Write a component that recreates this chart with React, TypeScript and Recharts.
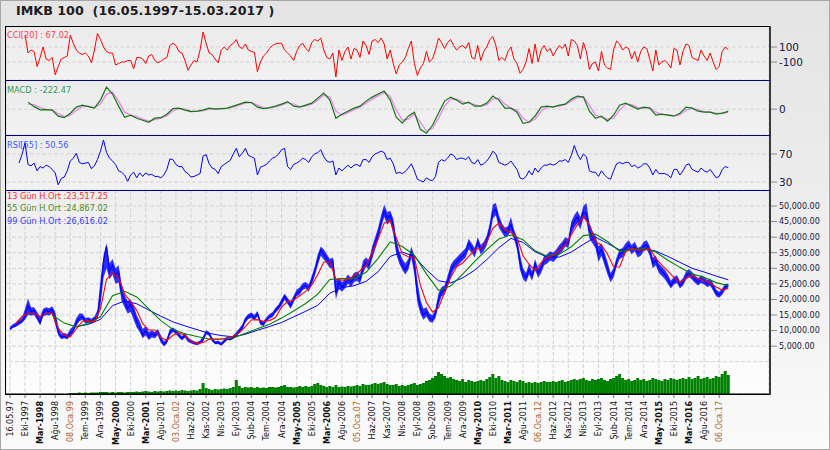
import React from 'react';
import { ComposedChart, Line, Bar, Area, XAxis, YAxis, CartesianGrid, ReferenceLine } from 'recharts';

const FONT = '"DejaVu Sans", Verdana, sans-serif';

// x axis: months since 16.05.1997 (t = 0 .. 238)
const tickLabels = [
  '16.05.97', 'Eki-1997', 'Mar-1998', 'Ağu-1998', '08.Oca.99', 'Tem-1999', 'Ara-1999', 'May-2000',
  'Eki-2000', 'Mar-2001', 'Ağu-2001', '03.Oca.02', 'Haz-2002', 'Kas-2002', 'Nis-2003', 'Eyl-2003',
  'Şub-2004', 'Tem-2004', 'Ara-2004', 'May-2005', 'Eki-2005', 'Mar-2006', 'Ağu-2006', '05.Oca.07',
  'Haz-2007', 'Kas-2007', 'Nis-2008', 'Eyl-2008', 'Şub-2009', 'Tem-2009', 'Ara-2009', 'May-2010',
  'Eki-2010', 'Mar-2011', 'Ağu-2011', '06.Oca.12', 'Haz-2012', 'Kas-2012', 'Nis-2013', 'Eyl-2013',
  'Şub-2014', 'Tem-2014', 'Ara-2014', 'May-2015', 'Eki-2015', 'Mar-2016', 'Ağu-2016', '06.Oca.17',
];
const boldLabels = ['Mar-1998', 'May-2000', 'Mar-2001', 'May-2005', 'Mar-2006', 'May-2010', 'Mar-2011', 'May-2015', 'Mar-2016'];

// IMKB 100 close, monthly (t = 0..238)
const price = [
  10500, 11200, 11800, 12500, 13000, 14500, 18000, 16000, 16500, 14500,
  12500, 15500, 16500, 16000, 17000, 14000, 9500, 8000, 8200, 7800,
  9000, 10000, 12500, 14000, 14500, 13000, 13500, 13000, 13800, 14500,
  22000, 32000, 37000, 29000, 31000, 27500, 29000, 22000, 19500, 17000,
  18500, 16000, 13000, 11000, 8500, 10000, 8000, 9000, 8500, 9500,
  7000, 5500, 6500, 9500, 10500, 9500, 8500, 7500, 8500, 7000,
  6500, 6000, 5800, 6200, 7000, 9500, 9000, 7000, 6000, 6200,
  5500, 6500, 7500, 7200, 7800, 8500, 10000, 11000, 13500, 14500,
  15000, 14000, 15500, 12500, 12000, 13500, 14500, 15000, 16500, 17500,
  19000, 21000, 19500, 18000, 20000, 22000, 22500, 24000, 24500, 23500,
  26000, 29000, 32500, 36000, 34500, 33000, 31500, 32500, 22000, 25500,
  24000, 25000, 26500, 25500, 27000, 27500, 26500, 30500, 32000, 31000,
  35000, 38000, 41000, 45000, 48500, 46000, 47000, 44000, 37000, 33500,
  31000, 29500, 31000, 35500, 31000, 22000, 17500, 15000, 16000, 14000,
  13500, 15500, 20000, 22500, 23000, 25500, 29000, 31000, 32000, 33000,
  34000, 35000, 38000, 36500, 35000, 38500, 36000, 37000, 39000, 42500,
  48000, 49000, 45000, 43000, 41500, 42000, 44000, 41000, 38000, 32000,
  28000, 27000, 29500, 27500, 31500, 28500, 30000, 32500, 33000, 34000,
  33500, 34500, 36000, 37000, 38500, 38000, 43000, 45000, 46500, 44500,
  48000, 47500, 42000, 40000, 38500, 34500, 36000, 33000, 30000, 27000,
  28500, 32000, 34500, 35000, 36500, 37500, 36000, 37000, 35000, 35500,
  37000, 37500, 35500, 31500, 32500, 30000, 29000, 28000, 26500, 24500,
  26000, 26500, 24500, 25500, 27500, 28500, 27500, 26500, 25500, 26500,
  26000, 25000, 25500, 24000, 22000, 21500, 22500, 24000, 24500,
];

// monthly low / high of the index (t = 0..238)
const priceLow = [
  10000, 10800, 11200, 11800, 12400, 13500, 15000, 14800, 15000, 13500,
  11800, 14500, 15000, 14800, 15500, 12000, 8500, 7200, 7500, 7200,
  8200, 9500, 11500, 13000, 13500, 12300, 12500, 12300, 13000, 13800,
  18000, 27000, 30000, 26500, 28000, 25000, 25500, 19500, 17500, 15500,
  16000, 13500, 11000, 9500, 7500, 8500, 7000, 7800, 7500, 8500,
  6200, 5000, 5800, 8500, 9500, 8800, 7800, 6800, 7800, 6300,
  5900, 5500, 5300, 5700, 6500, 8800, 8300, 6500, 5600, 5700,
  5100, 6000, 7000, 6800, 7300, 8000, 9300, 10300, 12500, 13700,
  14000, 13200, 14500, 11800, 11500, 12800, 13800, 14300, 15700, 16700,
  18000, 19800, 18500, 17000, 19000, 21000, 21500, 23000, 23500, 22500,
  24800, 27500, 31000, 34000, 32800, 31500, 30000, 30000, 20000, 23500,
  22500, 23500, 25000, 24000, 25500, 26000, 25000, 28500, 30500, 29500,
  33000, 36000, 39000, 43000, 46500, 44000, 45000, 41000, 34500, 31500,
  29500, 28000, 29500, 33500, 28000, 19000, 15500, 13500, 14500, 12800,
  12500, 14000, 18000, 21000, 21500, 24000, 27000, 29500, 30500, 31500,
  32500, 33500, 36000, 35000, 33500, 37000, 34500, 35500, 37500, 40500,
  46000, 47000, 43000, 41500, 40000, 40500, 42000, 39500, 36000, 29500,
  26500, 25500, 28000, 26000, 29500, 27000, 28500, 31000, 31500, 32500,
  32000, 33000, 34500, 35500, 37000, 36500, 41000, 43000, 44500, 42500,
  46000, 45500, 39500, 38000, 36500, 32000, 34000, 31000, 28000, 25500,
  27000, 30500, 33000, 33500, 35000, 36000, 34500, 35500, 33500, 34000,
  35500, 36000, 34000, 30000, 31000, 28500, 27500, 26500, 25000, 23500,
  24800, 25300, 23500, 24500, 26300, 27300, 26300, 25300, 24500, 25300,
  24800, 24000, 24400, 22800, 21000, 20500, 21500, 23000, 23800,
];
const priceHigh = [
  11200, 12000, 12600, 13300, 14000, 17000, 20300, 17500, 17500, 16000,
  14500, 17000, 17500, 17200, 17800, 16000, 11500, 9000, 9200, 8800,
  10500, 11500, 14000, 15500, 15500, 14000, 14300, 13800, 14500, 16500,
  26000, 34000, 38000, 31500, 33000, 30000, 31000, 25000, 21500, 19500,
  20000, 18000, 15000, 13000, 10500, 11500, 9500, 10000, 9500, 10500,
  8500, 6500, 7500, 10500, 11000, 10300, 9300, 8200, 9300, 7800,
  7100, 6600, 6300, 6800, 8200, 10000, 9600, 7800, 6600, 6800,
  6200, 7200, 8000, 7800, 8500, 9500, 10700, 12000, 14300, 15300,
  15800, 15000, 16300, 13500, 13000, 14300, 15300, 15900, 17300, 18400,
  20200, 21800, 20500, 19200, 21200, 23200, 23800, 25200, 25600, 24800,
  27500, 30500, 34500, 37000, 36000, 34500, 33000, 33500, 26000, 27000,
  25500, 26500, 28000, 27000, 28500, 29000, 28000, 32500, 33500, 32500,
  37000, 40000, 43000, 47000, 50500, 48000, 48500, 46000, 39500, 35500,
  33000, 31500, 33000, 37000, 34000, 26000, 20000, 17000, 17500, 15500,
  15000, 17000, 22000, 24000, 24500, 27500, 31000, 32500, 33500, 34500,
  35500, 36500, 39500, 38000, 36500, 40000, 37500, 38500, 40500, 44500,
  50500, 51000, 47000, 44500, 43000, 43500, 46500, 42500, 40000, 34500,
  30000, 28500, 31500, 29000, 33000, 30000, 31500, 34000, 34500, 35500,
  35000, 36000, 37500, 38500, 40000, 39500, 45000, 47000, 48500, 46500,
  50000, 51000, 44500, 42000, 40500, 37000, 38000, 35000, 32000, 28500,
  30000, 33500, 36000, 36500, 38000, 39000, 37500, 38500, 36500, 37000,
  38500, 39000, 37000, 33500, 34000, 31500, 30500, 29500, 28000, 26000,
  27300, 27800, 25800, 26800, 29000, 29800, 28800, 27800, 26700, 27800,
  27200, 26200, 26700, 25200, 23200, 22500, 23500, 25000, 25000,
];

// 13 day average, every 2 months from t = 2
const ma13 = [
  12400, 14500, 15500, 15500, 14500, 15500, 15500, 10700, 8500, 8000,
  10500, 13000, 13200, 12800, 17000, 26500, 28500, 27000, 21800, 19300,
  16500, 12200, 10200, 10200, 7800, 6800, 8500, 9300, 8500, 6600,
  5900, 6200, 7200, 7200, 7200, 7700, 8200, 9300, 11300, 13400,
  13500, 12900, 13200, 14200, 17500, 19300, 19800, 21200, 22600, 24600,
  28000, 32000, 32000, 26500, 26200, 26400, 27500, 29200, 31000, 35000,
  39500, 44500, 45200, 39800, 34600, 33700, 33500, 24500, 19000, 16000,
  17300, 22300, 27000, 30500, 31700, 33800, 36000, 36400, 38500, 42800,
  44500, 42300, 41500, 40000, 34000, 31300, 29200, 31800, 33500, 34100,
  35700, 37800, 40700, 44000, 46600, 44000, 38500, 37500, 34500, 30500,
  30400, 35300, 36400, 35900, 35800, 36300, 33200, 31000, 29100, 27000,
  25400, 26800, 27700, 26700, 26000, 25300, 24000, 23000, 23500,
];

// 55 day average, every 4 months from t = 14
const ma55 = [
  15000, 12400, 11200, 12300, 14500, 21200, 22600, 20800, 17000, 13200,
  10400, 9000, 8100, 7300, 7300, 7600, 9100, 10600, 12000, 14000,
  16300, 18700, 21700, 26400, 26700, 26700, 28700, 33200, 38500, 37000,
  34200, 28200, 22900, 24300, 28100, 32200, 36000, 39400, 40700, 39200,
  35600, 33900, 34500, 36900, 40500, 41000, 38600, 35500, 36000, 36400,
  35200, 32600, 30300, 28200, 27100, 25400, 24400,
];

// 99 day average, every 4 months from t = 22
const ma99 = [
  11300, 12000, 13600, 18000, 19500, 18600, 16600, 14600, 12800, 11500,
  10300, 9100, 8400, 8000, 8800, 10100, 11300, 12600, 14400, 16200,
  18100, 22000, 23800, 24400, 25800, 28900, 33800, 35200, 33800, 29500,
  26000, 25300, 26900, 29400, 32800, 36600, 39600, 38300, 35300, 33600,
  33600, 35200, 37700, 40000, 38000, 35900, 36000, 36400, 35500, 33800,
  31900, 30000, 28800, 27500, 26300,
];

// traded volume (billion TL), monthly t = 0..238
const volume = [
  0, 0, 0, 0, 0, 0, 0, 0, 0, 0,
  0, 0, 0, 0, 0, 0, 0, 0, 0, 0,
  1, 1, 1, 1.5, 1, 1.5, 1, 1.5, 1.5, 1.5,
  2, 2, 2, 1.5, 2, 1.5, 2, 2, 1.5, 2,
  2, 2, 2.5, 2, 2.5, 3, 2.5, 2, 3, 2.5,
  3, 2.5, 3, 3.5, 3, 3.5, 3, 4, 3.5, 3,
  3.5, 4, 3.5, 5, 11, 6, 5, 4, 5, 4.5,
  5, 5.5, 5, 6, 7, 14, 8, 6, 7, 6.5,
  7, 6, 7, 6, 6.5, 6, 7, 7, 6.5, 7,
  8, 9, 7, 7, 6.5, 7, 8, 7, 8, 7,
  8, 10, 11, 9, 8, 7, 8, 7, 9, 7,
  7.5, 7, 8, 7.5, 8, 9, 8, 10, 9, 9,
  10, 11, 10, 11, 12, 10, 9, 9, 10, 8,
  9, 8, 9, 10, 11, 9, 10, 11, 13, 14,
  16, 18, 22, 20, 18, 16, 17, 15, 14, 13,
  15, 12, 14, 13, 12, 13, 14, 13, 15, 17,
  20, 16, 18, 14, 13, 12, 14, 13, 12, 14,
  13, 11, 12, 11, 12, 11, 12, 13, 12, 12,
  13, 12, 13, 14, 12, 13, 14, 15, 14, 15,
  16, 14, 13, 15, 14, 15, 16, 14, 13, 15,
  16, 18, 20, 16, 14, 15, 13, 14, 16, 14,
  15, 13, 14, 16, 15, 14, 13, 15, 14, 16,
  15, 14, 15, 16, 15, 17, 15, 16, 18, 15,
  16, 17, 15, 16, 18, 17, 20, 23, 19,
];

// CCI[20], monthly from t = 5
const cci = [
  260, 20, 60, 40, -160, -40, 100, -60, -80, -40,
  -270, -160, -60, -40, -20, 260, 150, 60, 20, 0,
  20, -20, -110, 60, 280, 200, 100, 40, 20, 20,
  -140, -120, -100, -100, -80, -80, -190, -40, -40, -60,
  -120, -20, 0, -80, -110, -90, -60, -40, 120, 150,
  120, 40, 20, -80, -210, -140, -80, -100, 60, 300,
  150, 20, 0, -60, -110, 60, 100, 60, 120, 150,
  200, 100, 80, 140, 60, 40, 30, -230, -100, -20,
  20, 80, 120, 140, 150, 150, 60, 20, -20, -80,
  40, 120, 150, 80, 40, 160, 200, 180, 220, 60,
  -40, -60, 20, -300, 60, -80, 40, 100, -60, 80,
  60, -40, 180, 120, 0, 180, 200, 160, 220, 140,
  -60, 60, -120, -260, -140, -100, -40, 80, 180, -120,
  -280, -180, -120, 40, -100, -60, 60, 220, 160, 80,
  160, 200, 120, 60, 100, 120, 80, 160, -40, -60,
  120, -80, 40, 100, 200, 240, 120, -80, -40, -80,
  40, 100, -60, -120, -250, -200, -100, 80, -120, 140,
  -100, 60, 120, 40, 80, -20, 60, 120, 80, 140,
  -20, 200, 180, 120, -60, 160, 40, -200, -120, -100,
  -220, 40, -140, -180, -200, 60, 180, 140, 60, 100,
  80, -60, 40, -100, 40, 100, 80, -60, -220, 60,
  -140, -100, -80, -120, -180, 80, 60, -140, 40, 140,
  120, -40, -60, -80, 60, -20, -80, 20, -100, -200,
  -160, 40, 100, 67.02,
];

// MACD and its signal, every 2 months from t = 6
const macd = [
  700, 250, -70, -50, -100, -700, -850, -400, 200, 400,
  250, 100, 900, 2200, 1500, 300, -800, -600, -900, -1100,
  -1300, -900, -850, -500, 50, 100, -100, -250, -200, -100,
  100, 0, 50, 100, 300, 500, 700, 650, 200, 50,
  150, 300, 500, 750, 300, 200, 400, 600, 1100, 1600,
  900, -900, -500, -200, 100, 300, 800, 1200, 1500, 1800,
  900, -800, -1400, -700, -300, -2000, -2400, -1600, -400, 800,
  1200, 900, 500, 700, 300, 300, 600, 1300, 900, 100,
  100, -300, -1400, -1300, -700, 200, 300, 200, 400, 500,
  1000, 1300, 1200, -200, -900, -700, -1200, -600, 400, 600,
  300, 0, 200, 100, -600, -500, -600, -700, -400, 200,
  100, -200, -300, -300, -500, -400, -222.47,
];
const signal = [
  500, 450, 150, -20, -60, -450, -750, -600, -100, 250,
  300, 150, 500, 1500, 1700, 800, -300, -600, -750, -1000,
  -1200, -1050, -900, -650, -150, 50, 0, -200, -220, -150,
  0, 50, 30, 80, 200, 400, 600, 680, 400, 120,
  100, 220, 400, 650, 500, 250, 300, 500, 900, 1400,
  1200, -200, -600, -350, -50, 200, 600, 1000, 1350, 1650,
  1300, -100, -1100, -1000, -500, -1300, -2200, -1900, -900, 300,
  1000, 1000, 700, 600, 450, 300, 450, 1000, 1100, 500,
  100, -100, -900, -1300, -1000, -200, 200, 250, 300, 450,
  800, 1150, 1250, 400, -600, -800, -1000, -900, -100, 500,
  450, 150, 100, 150, -300, -550, -550, -650, -550, -100,
  100, -50, -250, -300, -400, -450, -300,
];

// RSI[55], monthly from t = 3
const rsi = [
  57, 69, 86, 55, 53, 57, 46, 52, 50, 54,
  52, 48, 43, 26, 35, 37, 46, 60, 64, 71,
  58, 56, 57, 58, 49, 53, 62, 74, 90, 72,
  64, 60, 55, 46, 44, 40, 31, 40, 44, 36,
  43, 38, 43, 40, 41, 38, 38, 36, 40, 48,
  63, 62, 55, 52, 52, 45, 42, 37, 38, 40,
  42, 67, 69, 56, 50, 48, 42, 52, 55, 58,
  61, 70, 78, 66, 71, 78, 68, 66, 64, 40,
  51, 53, 55, 60, 64, 66, 70, 76, 78, 52,
  48, 55, 57, 60, 64, 62, 58, 66, 70, 72,
  76, 66, 60, 58, 60, 40, 50, 46, 50, 54,
  50, 54, 55, 52, 62, 62, 58, 66, 70, 72,
  74, 72, 62, 64, 56, 42, 44, 42, 45, 50,
  56, 46, 34, 32, 30, 36, 33, 32, 38, 58,
  62, 60, 64, 70, 68, 62, 64, 64, 62, 66,
  58, 56, 62, 54, 56, 60, 66, 74, 70, 58,
  56, 54, 56, 60, 54, 48, 36, 34, 38, 46,
  40, 50, 44, 50, 54, 54, 56, 54, 56, 60,
  60, 62, 58, 68, 82, 70, 62, 70, 66, 46,
  44, 44, 38, 46, 40, 36, 34, 46, 56, 58,
  56, 58, 58, 52, 54, 50, 52, 56, 56, 50,
  40, 48, 42, 42, 42, 40, 36, 48, 48, 40,
  46, 54, 56, 48, 46, 44, 50, 46, 44, 48,
  42, 36, 38, 48, 52, 50.56,
];

function at(arr: number[], start: number, step: number, t: number) {
  if (t < start || (t - start) % step !== 0) return null;
  const v = arr[(t - start) / step];
  return v === undefined ? null : v;
}

const rows = price.map((p, t) => ({
  t,
  price: p,
  band: [priceLow[t], priceHigh[t]],
  ma13: at(ma13, 2, 2, t),
  ma55: at(ma55, 14, 4, t),
  ma99: at(ma99, 22, 4, t),
  volume: volume[t] > 0 ? volume[t] : null,
  cci: at(cci, 5, 1, t),
  rsi: at(rsi, 3, 1, t),
  macd: at(macd, 6, 2, t),
  signal: at(signal, 6, 2, t),
}));

const xTicks = tickLabels.map((_, i) => i * 5);
const X_DOMAIN: [number, number] = [-1.3, 251.5];
const mainTicks = [5000, 10000, 15000, 20000, 25000, 30000, 35000, 40000, 45000, 50000];

const GRID = { stroke: '#d3d3d3', strokeDasharray: '4 2' };
const MARGIN = { top: 0, right: 0, bottom: 0, left: 6 };

const XTick = (props: any) => {
  const { x, y, payload } = props;
  const label = tickLabels[Math.round(payload.value / 5)] ?? '';
  const bold = boldLabels.includes(label);
  const fill = label.includes('Oca') ? '#b0621c' : '#111111';
  return (
    <text
      x={x}
      y={y}
      dy={3}
      transform={`rotate(-90, ${x}, ${y})`}
      textAnchor="end"
      fontSize={8}
      fontFamily={FONT}
      fontWeight={bold ? 'bold' : 'normal'}
      fill={fill}
    >
      {label}
    </text>
  );
};

const hiddenX = (
  <XAxis dataKey="t" type="number" domain={X_DOMAIN} ticks={xTicks} height={0} tick={false} tickLine={false} axisLine={false} allowDataOverflow />
);

const smallTick = { fontSize: 10.5, fill: '#16163e', fontFamily: FONT };

export default function App() {
  return (
    <div style={{ position: 'absolute', left: 0, top: 0, width: 830, height: 450, overflow: 'hidden' }}>
      <div style={{ position: 'absolute', left: 0, top: 0, width: 830, height: 450, boxSizing: 'border-box', border: '1px solid #a6a6a6', background: 'linear-gradient(180deg, #e4e4e4 0%, #eeeeee 50%, #fafafa 100%)' }} />
      <div style={{ position: 'absolute', left: 6, top: 27, width: 763, height: 53, background: 'linear-gradient(180deg, #ebebeb, #f2f2f2)' }} />
      <div style={{ position: 'absolute', left: 6, top: 81, width: 763, height: 54, background: 'linear-gradient(180deg, #ebebeb, #f2f2f2)' }} />
      <div style={{ position: 'absolute', left: 6, top: 136, width: 763, height: 54, background: 'linear-gradient(180deg, #ebebeb, #f2f2f2)' }} />
      <div style={{ position: 'absolute', left: 6, top: 191, width: 763, height: 203, background: 'linear-gradient(180deg, #eeeeee, #fdfdfd)' }} />

      <div style={{ position: 'absolute', left: 0, top: 26 }}>
        <ComposedChart width={830} height={54} data={rows} margin={MARGIN}>
          <CartesianGrid {...GRID} />
          {hiddenX}
          <YAxis orientation="right" width={61} domain={[-340, 380]} ticks={[100, -100]} interval={0} tickSize={8} tickMargin={2} tick={smallTick} tickLine={{ stroke: '#8a8a8a' }} axisLine={false} allowDataOverflow />
          <Line dataKey="cci" stroke="#ff0000" strokeWidth={1} dot={false} isAnimationActive={false} connectNulls />
        </ComposedChart>
      </div>

      <div style={{ position: 'absolute', left: 0, top: 80 }}>
        <ComposedChart width={830} height={55} data={rows} margin={MARGIN}>
          <CartesianGrid {...GRID} />
          {hiddenX}
          <YAxis orientation="right" width={61} domain={[-2570, 2900]} ticks={[0]} interval={0} tickSize={8} tickMargin={2} tick={smallTick} tickLine={{ stroke: '#8a8a8a' }} axisLine={false} allowDataOverflow />
          <Line dataKey="signal" stroke="#ee82ee" strokeWidth={1.3} dot={false} isAnimationActive={false} connectNulls />
          <Line dataKey="macd" stroke="#107a10" strokeWidth={1.2} dot={false} isAnimationActive={false} connectNulls />
        </ComposedChart>
      </div>

      <div style={{ position: 'absolute', left: 0, top: 135 }}>
        <ComposedChart width={830} height={55} data={rows} margin={MARGIN}>
          <CartesianGrid {...GRID} />
          {hiddenX}
          <YAxis orientation="right" width={61} domain={[18.6, 97.1]} ticks={[70, 30]} interval={0} tickSize={8} tickMargin={2} tick={smallTick} tickLine={{ stroke: '#8a8a8a' }} axisLine={false} allowDataOverflow />
          <Line dataKey="rsi" stroke="#0000ff" strokeWidth={1} dot={false} isAnimationActive={false} connectNulls />
        </ComposedChart>
      </div>

      <div style={{ position: 'absolute', left: 0, top: 190 }}>
        <ComposedChart width={830} height={260} data={rows} margin={MARGIN}>
          <CartesianGrid yAxisId="p" {...GRID} />
          <XAxis dataKey="t" type="number" domain={X_DOMAIN} ticks={xTicks} interval={0} height={56} tick={<XTick />} tickSize={4} tickMargin={3} tickLine={{ stroke: '#777' }} axisLine={{ stroke: '#000' }} allowDataOverflow />
          <YAxis yAxisId="p" orientation="right" width={61} domain={[-10370, 55140]} ticks={mainTicks} interval={0} tickSize={8} tickMargin={2}
            tick={{ fontSize: 8, fill: '#16163e', fontFamily: FONT }} tickLine={{ stroke: '#8a8a8a' }} axisLine={false} allowDataOverflow
            tickFormatter={(v: number) => v.toLocaleString('en-US', { minimumFractionDigits: 2, maximumFractionDigits: 2 })} />
          <YAxis yAxisId="v" hide domain={[0, 204]} allowDataOverflow />
          <ReferenceLine yAxisId="p" y={0} {...GRID} />
          <Bar yAxisId="v" dataKey="volume" fill="#008000" barSize={3} isAnimationActive={false} />
          <Area yAxisId="p" dataKey="band" type="linear" stroke="none" fill="#0a0aff" fillOpacity={0.85} dot={false} activeDot={false} isAnimationActive={false} />
          <Line yAxisId="p" dataKey="price" stroke="#0000ff" strokeWidth={1.2} dot={false} isAnimationActive={false} connectNulls />
          <Line yAxisId="p" dataKey="ma99" stroke="#0000ff" strokeWidth={1} dot={false} isAnimationActive={false} connectNulls />
          <Line yAxisId="p" dataKey="ma55" stroke="#008000" strokeWidth={1.1} dot={false} isAnimationActive={false} connectNulls />
          <Line yAxisId="p" dataKey="ma13" stroke="#ff0000" strokeWidth={1.1} dot={false} isAnimationActive={false} connectNulls />
        </ComposedChart>
      </div>

      <svg width={830} height={450} style={{ position: 'absolute', left: 0, top: 0, pointerEvents: 'none' }}>
        <text x={16} y={15} fontFamily={FONT} fontWeight="bold" fontSize={12.7} fill="#1c1c1c" xmlSpace="preserve" style={{ whiteSpace: 'pre' }}>
          IMKB 100  (16.05.1997-15.03.2017 )
        </text>
        <line x1={5} x2={771} y1={26.5} y2={26.5} stroke="#000" strokeWidth={1} />
        <line x1={5.5} x2={5.5} y1={26} y2={395} stroke="#000" strokeWidth={1} />
        <line x1={5} x2={771} y1={394.5} y2={394.5} stroke="#000" strokeWidth={1} />
        <line x1={770} x2={770} y1={26} y2={395} stroke="#3a3a3a" strokeWidth={2} />
        <line x1={5} x2={771} y1={80.5} y2={80.5} stroke="#000080" strokeWidth={1.2} />
        <line x1={5} x2={771} y1={135.5} y2={135.5} stroke="#000080" strokeWidth={1.2} />
        <line x1={5} x2={771} y1={190.5} y2={190.5} stroke="#000080" strokeWidth={1.2} />
        <g fontFamily={FONT} fontSize={8.2}>
          <text x={7} y={37.5} fill="#ff3c50">CCI[20] : 67.02</text>
          <text x={7} y={93} fill="#2e9a5a">MACD : -222.47</text>
          <text x={7} y={148} fill="#3a58ff">RSI[55] : 50.56</text>
          <text x={7} y={199} fill="#ff3030">13 Gün H.Ort :23,517.25</text>
          <text x={7} y={211} fill="#4f8a1a">55 Gün H.Ort :24,867.02</text>
          <text x={7} y={223.5} fill="#3a3aff">99 Gün H.Ort :26,616.02</text>
        </g>
      </svg>
    </div>
  );
}
